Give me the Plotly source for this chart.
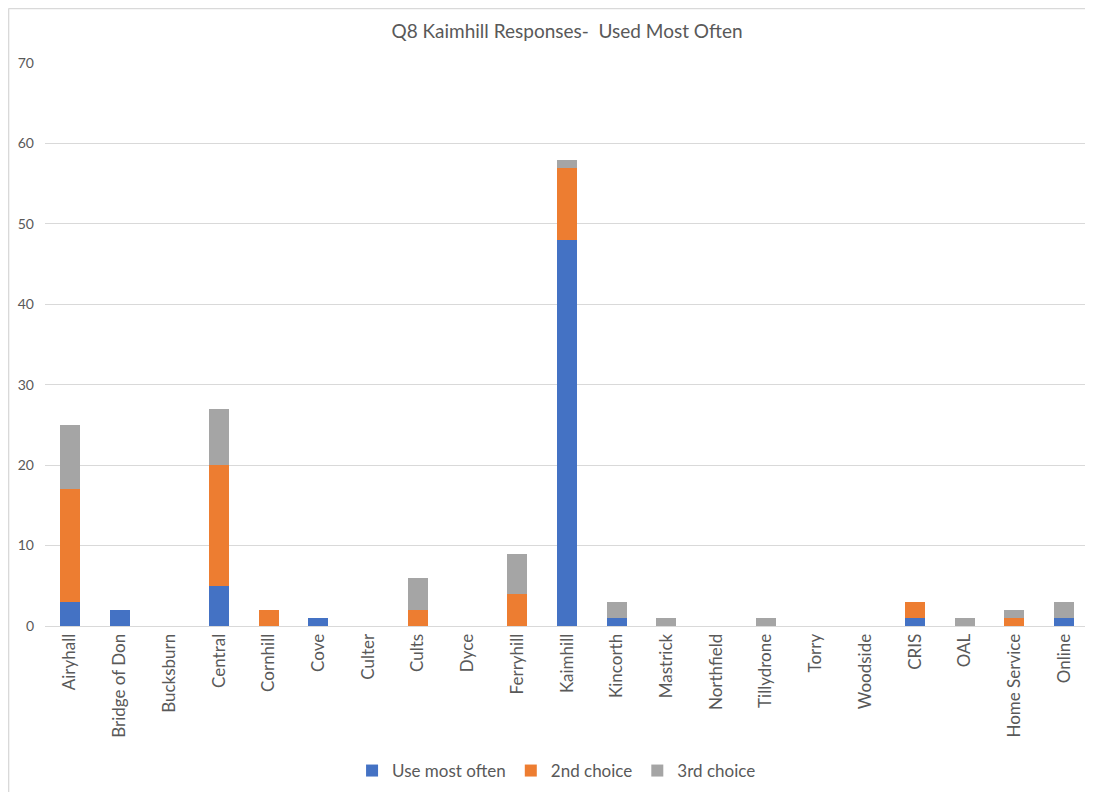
import plotly.graph_objects as go

categories = ["Airyhall", "Bridge of Don", "Bucksburn", "Central", "Cornhill", "Cove", "Culter",
              "Cults", "Dyce", "Ferryhill", "Kaimhill", "Kincorth", "Mastrick", "Northfield",
              "Tillydrone", "Torry", "Woodside", "CRIS", "OAL", "Home Service", "Online"]
use_most_often = [3, 2, 0, 5, 0, 1, 0, 0, 0, 0, 48, 1, 0, 0, 0, 0, 0, 1, 0, 0, 1]
second_choice = [14, 0, 0, 15, 2, 0, 0, 2, 0, 4, 9, 0, 0, 0, 0, 0, 0, 2, 0, 1, 0]
third_choice = [8, 0, 0, 7, 0, 0, 0, 4, 0, 5, 1, 2, 1, 0, 1, 0, 0, 0, 1, 1, 2]
y_ticks = [0, 10, 20, 30, 40, 50, 60, 70]

FONT = "Lato, 'Open Sans', sans-serif"
TXT = "#595959"

fig = go.Figure()
for name, vals, col in [("Use most often", use_most_often, "#4472C4"),
                        ("2nd choice", second_choice, "#ED7D31"),
                        ("3rd choice", third_choice, "#A5A5A5")]:
    fig.add_trace(go.Bar(name=name, x=categories, y=vals, marker=dict(color=col, line=dict(width=0))))

fig.update_layout(
    barmode="stack",
    bargap=0.6,
    width=1085, height=784,
    paper_bgcolor="white", plot_bgcolor="white",
    margin=dict(l=37, r=4, t=55, b=165),
    title=dict(text="Q8 Kaimhill Responses-  Used Most Often", xref="paper", x=0.5, xanchor="center",
               y=0.9707, yanchor="middle", font=dict(family=FONT, size=19, color=TXT)),
    font=dict(family=FONT, size=13, color=TXT),
    legend=dict(orientation="h", x=0.49, xanchor="center", y=-0.2553, yanchor="middle",
                font=dict(size=17, color=TXT), traceorder="normal", itemwidth=30),
    xaxis=dict(tickangle=-90, showgrid=False, showline=True, linecolor="#d9d9d9",
               ticks="", tickfont=dict(size=17, color=TXT)),
    yaxis=dict(range=[0, 70], tickvals=y_ticks, showgrid=True, gridcolor="#d9d9d9",
               zeroline=False, ticks="", tickfont=dict(size=14, color=TXT), ticklabelstandoff=10),
)
# outer frame: top and left edges
fig.add_shape(type="line", xref="paper", yref="paper", x0=-0.035, x1=1.01, y0=1.0967, y1=1.0967,
              line=dict(color="#d9d9d9", width=1.5))
fig.add_shape(type="line", xref="paper", yref="paper", x0=-0.0349, x1=-0.0349, y0=-0.3, y1=1.0967,
              line=dict(color="#d9d9d9", width=1.5))
fig.write_html("out.html")
